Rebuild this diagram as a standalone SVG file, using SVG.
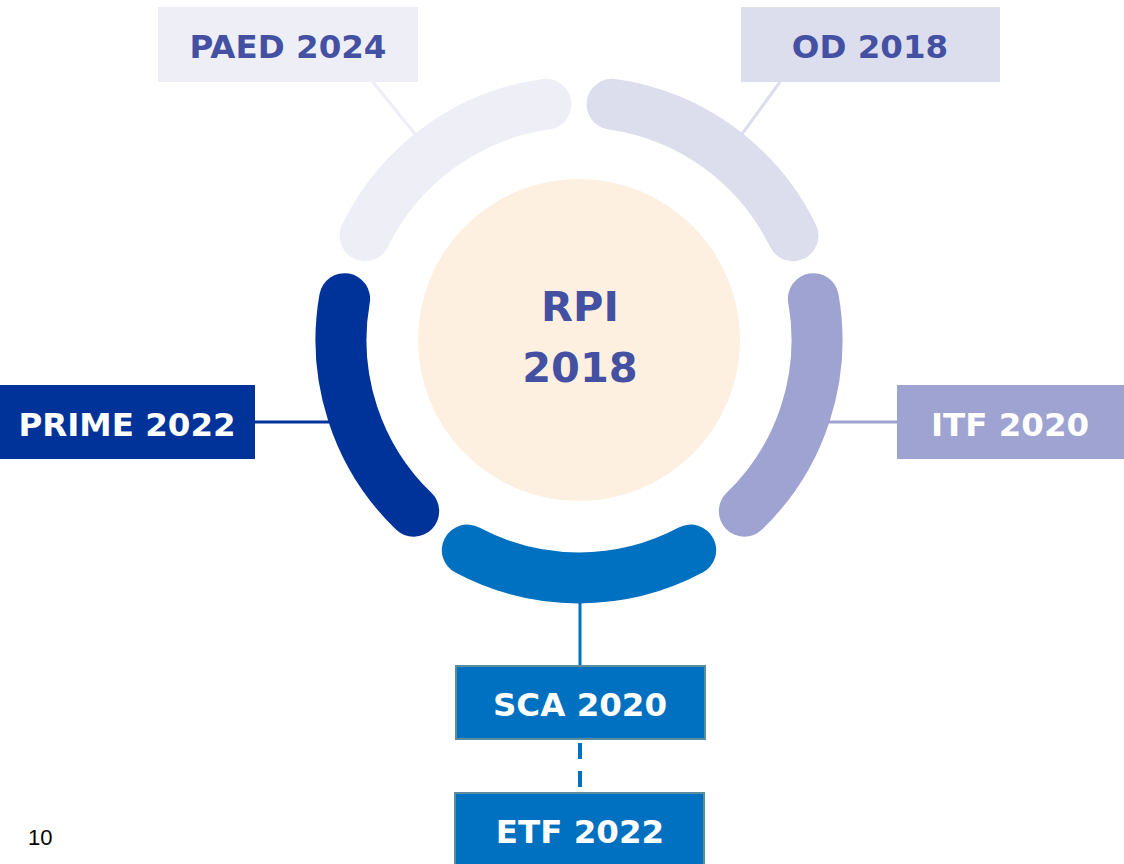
<svg xmlns="http://www.w3.org/2000/svg" width="1124" height="864" viewBox="0 0 1124 864">
<style>
.lbl{font-family:"DejaVu Sans","Verdana",sans-serif;font-weight:bold;font-size:32.5px;text-anchor:middle}
.arc{fill:none;stroke-width:51;stroke-linecap:round}
.con{fill:none;stroke-width:3}
</style>
<rect width="1124" height="864" fill="#ffffff"/>
<g id="connectors">
<line class="con" x1="373" y1="82" x2="415" y2="134" stroke="#EEEEF7"/>
<line class="con" x1="780" y1="82" x2="742" y2="134" stroke="#DCDEEE"/>
<line class="con" x1="255" y1="422" x2="332" y2="422" stroke="#003399"/>
<line class="con" x1="827" y1="422" x2="897" y2="422" stroke="#9EA3D1"/>
<line class="con" x1="580" y1="600" x2="580" y2="666" stroke="#0070C0"/>
<line x1="580" y1="743" x2="580" y2="790" stroke="#0070C0" stroke-width="4" stroke-dasharray="16 12"/>
</g>
<g id="center">
<circle cx="579" cy="340" r="161" fill="#FEF0E1"/>
<text class="lbl" x="580" y="321" style="font-size:41.5px" fill="#4451A3">RPI</text>
<text class="lbl" x="580" y="382" style="font-size:41.5px" fill="#4451A3">2018</text>
</g>
<g id="arc-od"><path class="arc" stroke="#DCDEEE" d="M 612.1 104.3 A 238 238 0 0 1 792.9 235.7"/></g>
<g id="arc-itf"><path class="arc" stroke="#9EA3D1" d="M 813.4 298.7 A 238 238 0 0 1 744.3 511.2"/></g>
<g id="arc-sca"><path class="arc" stroke="#0070C0" d="M 690.7 550.1 A 238 238 0 0 1 467.3 550.1"/></g>
<g id="arc-prime"><path class="arc" stroke="#003399" d="M 413.7 511.2 A 238 238 0 0 1 344.6 298.7"/></g>
<g id="arc-paed"><path class="arc" stroke="#EEEEF7" d="M 365.1 235.7 A 238 238 0 0 1 545.9 104.3"/></g>
<g id="paed">
<rect x="158" y="7" width="260" height="75" fill="#EEEEF7"/>
<text class="lbl" x="288" y="58" fill="#4451A3">PAED 2024</text>
</g>
<g id="od">
<rect x="741" y="7" width="259" height="75" fill="#DCDEEE"/>
<text class="lbl" x="870" y="58" fill="#4451A3">OD 2018</text>
</g>
<g id="prime">
<rect x="0" y="385" width="255" height="74" fill="#003399"/>
<text class="lbl" x="127" y="436" fill="#ffffff">PRIME 2022</text>
</g>
<g id="itf">
<rect x="897" y="385" width="227" height="74" fill="#9EA3D1"/>
<text class="lbl" x="1010" y="436" fill="#ffffff">ITF 2020</text>
</g>
<g id="sca">
<rect x="456" y="666" width="249" height="73" fill="#0070C0" stroke="#5B8D9E" stroke-width="2"/>
<text class="lbl" x="580" y="716" fill="#ffffff">SCA 2020</text>
</g>
<g id="etf">
<rect x="455" y="793" width="249" height="80" fill="#0070C0" stroke="#5B8D9E" stroke-width="2"/>
<text class="lbl" x="580" y="843" fill="#ffffff">ETF 2022</text>
</g>
<text x="28" y="845" font-family="Liberation Sans, Arial, sans-serif" font-size="22" fill="#000000">10</text>
</svg>
